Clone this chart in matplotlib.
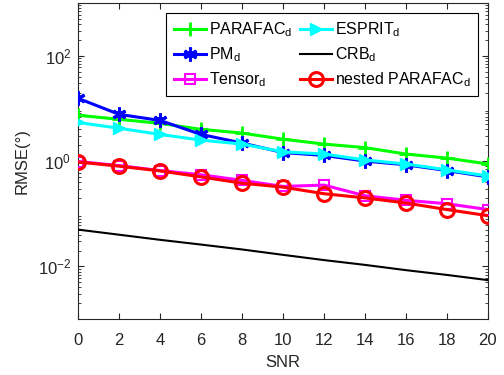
import matplotlib
matplotlib.use('Agg')
import matplotlib.pyplot as plt

snr = [0, 2, 4, 6, 8, 10, 12, 14, 16, 18, 20]

parafac = [7.4, 6.2, 5.2, 4.0, 3.4, 2.6, 2.1, 1.8, 1.36, 1.14, 0.88]
esprit = [5.4, 4.2, 3.2, 2.5, 2.1, 1.5, 1.36, 1.05, 0.88, 0.68, 0.52]
pm = [15.5, 7.7, 5.9, 3.2, 2.2, 1.45, 1.28, 1.0, 0.85, 0.66, 0.5]
crb = [0.050, 0.040, 0.032, 0.026, 0.021, 0.0166, 0.0132, 0.0107, 0.0085, 0.0069, 0.0055]
tensor = [0.98, 0.82, 0.66, 0.55, 0.43, 0.33, 0.35, 0.22, 0.18, 0.155, 0.12]
nested = [0.96, 0.80, 0.65, 0.50, 0.38, 0.32, 0.24, 0.20, 0.16, 0.12, 0.092]

plt.rcParams['font.family'] = ['Liberation Sans', 'DejaVu Sans']
plt.rcParams['mathtext.fontset'] = 'custom'
plt.rcParams['mathtext.rm'] = 'Liberation Sans'
plt.rcParams['mathtext.it'] = 'Liberation Sans'

fig = plt.figure(figsize=(5.04, 3.75), dpi=100)
ax = fig.add_axes([0.155, 0.149, 0.813, 0.843])

lw = 2.2
h_parafac, = ax.plot(snr, parafac, color=(0, 1, 0), marker='+', ms=10, mew=2, lw=lw,
                     label=r'PARAFAC$_\mathregular{d}$', zorder=3)
h_pm, = ax.plot(snr, pm, color=(0, 0, 1), marker=(6, 2, 0), ms=10, mew=2.2, lw=lw,
                label=r'PM$_\mathregular{d}$', zorder=4)
h_esprit, = ax.plot(snr, esprit, color=(0, 1, 1), marker='>', ms=9, lw=lw,
                    label=r'ESPRIT$_\mathregular{d}$', zorder=5)
h_crb, = ax.plot(snr, crb, color='k', lw=1.5, label=r'CRB$_\mathregular{d}$', zorder=3)
h_tensor, = ax.plot(snr, tensor, color=(1, 0, 1), marker='s', ms=7, mfc='none', mew=1.5, lw=lw,
                    label=r'Tensor$_\mathregular{d}$', zorder=6)
h_nested, = ax.plot(snr, nested, color=(1, 0, 0), marker='o', ms=10, mfc='none', mew=2.2, lw=lw,
                    label=r'nested PARAFAC$_\mathregular{d}$', zorder=7)

ax.set_yscale('log')
ax.set_xlim(0, 20)
ax.set_ylim(1e-3, 1e3)
ax.set_xticks(snr)
ax.set_yticks([1e-2, 1, 1e2])
ax.tick_params(which='both', direction='in', top=True, right=True, labelsize=12,
               colors='#262626')
ax.tick_params(which='major', length=4)
ax.tick_params(which='minor', length=2)
ax.tick_params(axis='x', pad=10)
ax.tick_params(axis='y', pad=5)
for s in ax.spines.values():
    s.set_color('#262626')
    s.set_linewidth(0.8)

ax.set_xlabel('SNR', fontsize=12, color='#262626', labelpad=5)
ax.set_ylabel('RMSE(°)', fontsize=12, color='#262626', labelpad=6)

handles = [h_parafac, h_pm, h_tensor, h_esprit, h_crb, h_nested]
leg = ax.legend(handles=handles, ncol=2, loc='upper right', bbox_to_anchor=(0.976, 0.968),
                fontsize=11.5, fancybox=False, edgecolor='k', framealpha=1,
                borderaxespad=0, handlelength=2.0, handletextpad=0.2, columnspacing=0.5,
                labelspacing=0.4, borderpad=0.45)
leg.get_frame().set_linewidth(0.8)

fig.savefig('out.png', dpi=100)
